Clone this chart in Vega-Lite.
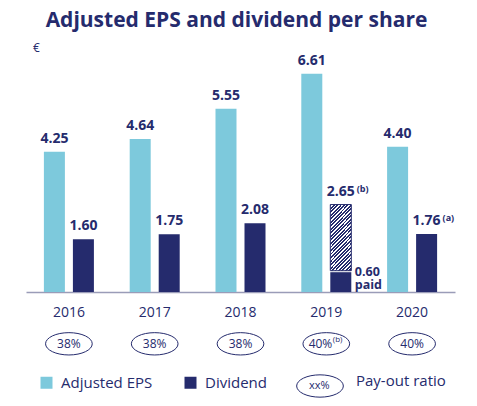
{
  "$schema": "https://vega.github.io/schema/vega-lite/v6.json",
  "width": 429,
  "height": 231,
  "autosize": {"type": "none"},
  "padding": {"left": 26, "top": 61, "right": 22, "bottom": 114},
  "background": "white",
  "config": {
    "view": {"stroke": null},
    "font": "Open Sans",
    "text": {"font": "Open Sans", "color": "#252b6d"}
  },
  "title": {
    "text": "Adjusted EPS and dividend per share",
    "font": "Open Sans",
    "fontSize": 21,
    "fontWeight": "bold",
    "color": "#252b6d",
    "anchor": "middle",
    "dx": -4,
    "offset": 10
  },
  "datasets": {
    "bars": [
      {"year": "2016", "series": "Adjusted EPS", "value": 4.25},
      {"year": "2016", "series": "Dividend", "value": 1.60},
      {"year": "2017", "series": "Adjusted EPS", "value": 4.64},
      {"year": "2017", "series": "Dividend", "value": 1.75},
      {"year": "2018", "series": "Adjusted EPS", "value": 5.55},
      {"year": "2018", "series": "Dividend", "value": 2.08},
      {"year": "2019", "series": "Adjusted EPS", "value": 6.61},
      {"year": "2019", "series": "Dividend", "value": 2.65, "paid": 0.60, "note": "(b)"},
      {"year": "2020", "series": "Adjusted EPS", "value": 4.40},
      {"year": "2020", "series": "Dividend", "value": 1.76, "note": "(a)"}
    ],
    "payout": [
      {"year": "2016", "payout": "38%"},
      {"year": "2017", "payout": "38%"},
      {"year": "2018", "payout": "38%"},
      {"year": "2019", "payout": "40%", "note": "(b)"},
      {"year": "2020", "payout": "40%"}
    ]
  },
  "encoding": {
    "x": {
      "field": "year",
      "type": "nominal",
      "scale": {"paddingInner": 0, "paddingOuter": 0},
      "axis": {
        "title": null,
        "labelAngle": 0,
        "ticks": false,
        "domainColor": "#9a9cb8",
        "domainWidth": 1.5,
        "labelFont": "Open Sans",
        "labelFontSize": 14,
        "labelColor": "#252b6d",
        "labelPadding": 13
      }
    }
  },
  "layer": [
    {
      "data": {"name": "bars"},
      "transform": [{"filter": "!isValid(datum.paid)"}],
      "mark": {"type": "bar"},
      "encoding": {
        "xOffset": {"field": "series", "type": "nominal", "scale": {"domain": ["Adjusted EPS", "Dividend"], "paddingInner": 0.276, "paddingOuter": 0.617}},
        "y": {
          "field": "value",
          "type": "quantitative",
          "scale": {"domain": [0, 7], "nice": false},
          "axis": {
            "title": "€",
            "titleAngle": 0,
            "titleX": 10,
            "titleY": -14,
            "titleAlign": "center",
            "titleBaseline": "middle",
            "titleFont": "Open Sans",
            "titleFontSize": 12,
            "titleFontWeight": "normal",
            "titleColor": "#252b6d",
            "labels": false,
            "ticks": false,
            "domain": false,
            "grid": false
          }
        },
        "color": {
          "field": "series",
          "type": "nominal",
          "scale": {"domain": ["Adjusted EPS", "Dividend"], "range": ["#7dc9dc", "#252b6d"]},
          "legend": {
            "title": null,
            "orient": "none",
            "direction": "horizontal",
            "legendX": 13,
            "legendY": 314,
            "symbolType": "square",
            "symbolSize": 144,
            "symbolStrokeWidth": 0,
            "labelFont": "Open Sans",
            "labelFontSize": 15,
            "labelColor": "#252b6d",
            "labelOffset": 7,
            "columnPadding": 30,
            "padding": 0
          }
        }
      }
    },
    {
      "data": {"name": "bars"},
      "transform": [{"filter": "isValid(datum.paid)"}],
      "mark": {"type": "bar", "fill": "#252b6d"},
      "encoding": {
        "xOffset": {"field": "series", "type": "nominal"},
        "y": {"field": "paid", "type": "quantitative"}
      }
    },
    {
      "data": {"name": "bars"},
      "transform": [{"filter": "isValid(datum.paid)"}],
      "mark": {
        "type": "bar",
        "stroke": "#252b6d",
        "strokeWidth": 1,
        "y2Offset": -1.5,
        "fill": {
          "gradient": "linear",
          "x1": 0, "y1": 0, "x2": 0.393, "y2": 1.2,
          "stops": [
            {"offset": 0.0, "color": "#252b6d"}, {"offset": 0.022, "color": "#252b6d"}, {"offset": 0.022, "color": "#ffffff"}, {"offset": 0.04, "color": "#ffffff"},
            {"offset": 0.04, "color": "#252b6d"}, {"offset": 0.062, "color": "#252b6d"}, {"offset": 0.062, "color": "#ffffff"}, {"offset": 0.08, "color": "#ffffff"},
            {"offset": 0.08, "color": "#252b6d"}, {"offset": 0.102, "color": "#252b6d"}, {"offset": 0.102, "color": "#ffffff"}, {"offset": 0.12, "color": "#ffffff"},
            {"offset": 0.12, "color": "#252b6d"}, {"offset": 0.142, "color": "#252b6d"}, {"offset": 0.142, "color": "#ffffff"}, {"offset": 0.16, "color": "#ffffff"},
            {"offset": 0.16, "color": "#252b6d"}, {"offset": 0.182, "color": "#252b6d"}, {"offset": 0.182, "color": "#ffffff"}, {"offset": 0.2, "color": "#ffffff"},
            {"offset": 0.2, "color": "#252b6d"}, {"offset": 0.222, "color": "#252b6d"}, {"offset": 0.222, "color": "#ffffff"}, {"offset": 0.24, "color": "#ffffff"},
            {"offset": 0.24, "color": "#252b6d"}, {"offset": 0.262, "color": "#252b6d"}, {"offset": 0.262, "color": "#ffffff"}, {"offset": 0.28, "color": "#ffffff"},
            {"offset": 0.28, "color": "#252b6d"}, {"offset": 0.302, "color": "#252b6d"}, {"offset": 0.302, "color": "#ffffff"}, {"offset": 0.32, "color": "#ffffff"},
            {"offset": 0.32, "color": "#252b6d"}, {"offset": 0.342, "color": "#252b6d"}, {"offset": 0.342, "color": "#ffffff"}, {"offset": 0.36, "color": "#ffffff"},
            {"offset": 0.36, "color": "#252b6d"}, {"offset": 0.382, "color": "#252b6d"}, {"offset": 0.382, "color": "#ffffff"}, {"offset": 0.4, "color": "#ffffff"},
            {"offset": 0.4, "color": "#252b6d"}, {"offset": 0.422, "color": "#252b6d"}, {"offset": 0.422, "color": "#ffffff"}, {"offset": 0.44, "color": "#ffffff"},
            {"offset": 0.44, "color": "#252b6d"}, {"offset": 0.462, "color": "#252b6d"}, {"offset": 0.462, "color": "#ffffff"}, {"offset": 0.48, "color": "#ffffff"},
            {"offset": 0.48, "color": "#252b6d"}, {"offset": 0.502, "color": "#252b6d"}, {"offset": 0.502, "color": "#ffffff"}, {"offset": 0.52, "color": "#ffffff"},
            {"offset": 0.52, "color": "#252b6d"}, {"offset": 0.542, "color": "#252b6d"}, {"offset": 0.542, "color": "#ffffff"}, {"offset": 0.56, "color": "#ffffff"},
            {"offset": 0.56, "color": "#252b6d"}, {"offset": 0.582, "color": "#252b6d"}, {"offset": 0.582, "color": "#ffffff"}, {"offset": 0.6, "color": "#ffffff"},
            {"offset": 0.6, "color": "#252b6d"}, {"offset": 0.622, "color": "#252b6d"}, {"offset": 0.622, "color": "#ffffff"}, {"offset": 0.64, "color": "#ffffff"},
            {"offset": 0.64, "color": "#252b6d"}, {"offset": 0.662, "color": "#252b6d"}, {"offset": 0.662, "color": "#ffffff"}, {"offset": 0.68, "color": "#ffffff"},
            {"offset": 0.68, "color": "#252b6d"}, {"offset": 0.702, "color": "#252b6d"}, {"offset": 0.702, "color": "#ffffff"}, {"offset": 0.72, "color": "#ffffff"},
            {"offset": 0.72, "color": "#252b6d"}, {"offset": 0.742, "color": "#252b6d"}, {"offset": 0.742, "color": "#ffffff"}, {"offset": 0.76, "color": "#ffffff"},
            {"offset": 0.76, "color": "#252b6d"}, {"offset": 0.782, "color": "#252b6d"}, {"offset": 0.782, "color": "#ffffff"}, {"offset": 0.8, "color": "#ffffff"},
            {"offset": 0.8, "color": "#252b6d"}, {"offset": 0.822, "color": "#252b6d"}, {"offset": 0.822, "color": "#ffffff"}, {"offset": 0.84, "color": "#ffffff"},
            {"offset": 0.84, "color": "#252b6d"}, {"offset": 0.862, "color": "#252b6d"}, {"offset": 0.862, "color": "#ffffff"}, {"offset": 0.88, "color": "#ffffff"},
            {"offset": 0.88, "color": "#252b6d"}, {"offset": 0.902, "color": "#252b6d"}, {"offset": 0.902, "color": "#ffffff"}, {"offset": 0.92, "color": "#ffffff"},
            {"offset": 0.92, "color": "#252b6d"}, {"offset": 0.942, "color": "#252b6d"}, {"offset": 0.942, "color": "#ffffff"}, {"offset": 0.96, "color": "#ffffff"},
            {"offset": 0.96, "color": "#252b6d"}, {"offset": 1.0, "color": "#252b6d"}
          ]
        }
      },
      "encoding": {
        "xOffset": {"field": "series", "type": "nominal"},
        "y": {"field": "value", "type": "quantitative"},
        "y2": {"field": "paid"}
      }
    },
    {
      "data": {"name": "bars"},
      "mark": {"type": "text", "baseline": "alphabetic", "dy": -9, "fontSize": 14, "fontWeight": "bold", "color": "#252b6d"},
      "encoding": {
        "xOffset": {"field": "series", "type": "nominal"},
        "y": {"field": "value", "type": "quantitative"},
        "text": {"field": "value", "type": "quantitative", "format": ".2f"}
      }
    },
    {
      "data": {"name": "bars"},
      "transform": [{"filter": "isValid(datum.note)"}],
      "mark": {"type": "text", "align": "left", "baseline": "alphabetic", "dx": 16, "dy": -13, "fontSize": 9, "fontWeight": "bold", "color": "#252b6d"},
      "encoding": {
        "xOffset": {"field": "series", "type": "nominal"},
        "y": {"field": "value", "type": "quantitative"},
        "text": {"field": "note"}
      }
    },
    {
      "data": {"name": "bars"},
      "transform": [{"filter": "isValid(datum.paid)"}],
      "mark": {"type": "text", "align": "left", "baseline": "alphabetic", "dx": 14, "dy": 4, "fontSize": 12.5, "fontWeight": "bold", "color": "#252b6d"},
      "encoding": {
        "xOffset": {"field": "series", "type": "nominal"},
        "y": {"field": "paid", "type": "quantitative"},
        "text": {"field": "paid", "type": "quantitative", "format": ".2f"}
      }
    },
    {
      "data": {"name": "bars"},
      "transform": [{"filter": "isValid(datum.paid)"}],
      "mark": {"type": "text", "align": "left", "baseline": "alphabetic", "dx": 14, "dy": 17, "fontSize": 12.5, "fontWeight": "bold", "color": "#252b6d", "text": "paid"},
      "encoding": {
        "xOffset": {"field": "series", "type": "nominal"},
        "y": {"field": "paid", "type": "quantitative"}
      }
    },
    {
      "data": {"name": "payout"},
      "mark": {"type": "point", "filled": false, "stroke": "#252b6d", "strokeWidth": 1, "opacity": 1, "size": 2180},
      "encoding": {
        "y": {"datum": -1.57, "type": "quantitative"},
        "shape": {
          "datum": "Pay-out ratio",
          "scale": {"domain": ["Pay-out ratio"], "range": ["M-1,0A1,0.478,0,1,0,1,0A1,0.478,0,1,0,-1,0Z"]},
          "legend": {
            "orient": "none",
            "legendX": 270,
            "legendY": 301,
            "direction": "horizontal",
            "symbolSize": 2180,
            "symbolStrokeColor": "#252b6d",
            "symbolStrokeWidth": 1,
            "symbolFillColor": "transparent",
            "labelExpr": "'xx%'",
            "labelOffset": -35,
            "labelFont": "Open Sans",
            "labelFontSize": 11,
            "labelColor": "#252b6d",
            "title": "Pay-out ratio",
            "titleOrient": "right",
            "titleAnchor": "middle",
            "titleBaseline": "middle",
            "titleFont": "Open Sans",
            "titleFontSize": 15,
            "titleFontWeight": "normal",
            "titleColor": "#252b6d",
            "titlePadding": 11,
            "padding": 0
          }
        }
      }
    },
    {
      "data": {"name": "payout"},
      "transform": [{"filter": "!isValid(datum.note)"}],
      "mark": {"type": "text", "baseline": "middle", "fontSize": 12, "color": "#252b6d"},
      "encoding": {
        "y": {"datum": -1.57, "type": "quantitative"},
        "text": {"field": "payout"}
      }
    },
    {
      "data": {"name": "payout"},
      "transform": [{"filter": "isValid(datum.note)"}],
      "mark": {"type": "text", "align": "right", "baseline": "middle", "dx": 6, "fontSize": 12, "color": "#252b6d"},
      "encoding": {
        "y": {"datum": -1.57, "type": "quantitative"},
        "text": {"field": "payout"}
      }
    },
    {
      "data": {"name": "payout"},
      "transform": [{"filter": "isValid(datum.note)"}],
      "mark": {"type": "text", "align": "left", "baseline": "middle", "dx": 6.5, "dy": -4, "fontSize": 8, "color": "#252b6d"},
      "encoding": {
        "y": {"datum": -1.57, "type": "quantitative"},
        "text": {"field": "note"}
      }
    }
  ]
}
